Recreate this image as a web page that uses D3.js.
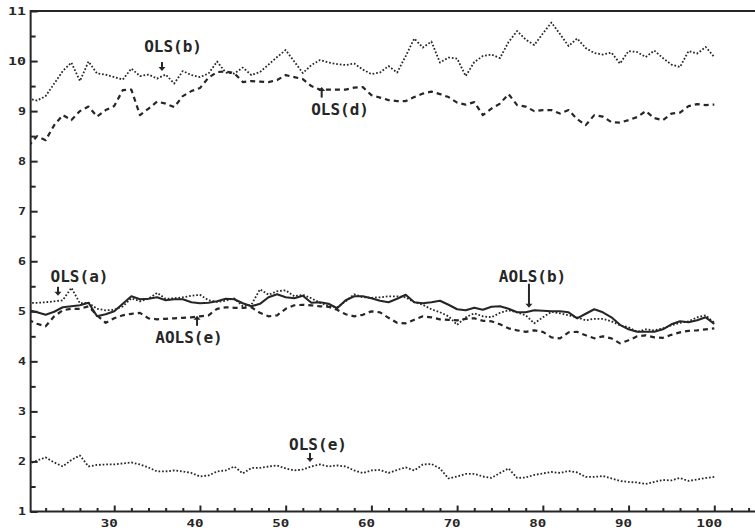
<!DOCTYPE html>
<html>
<head>
<meta charset="utf-8">
<script src="https://cdn.jsdelivr.net/npm/d3@7"></script>
<style>
  body { margin: 0; background: #ffffff; }
  svg { display: block; }
  .lbl { font-family: "DejaVu Sans Mono", monospace; font-weight: bold; fill: #262626; }
</style>
</head>
<body>
<script>
// chart size
var width = 755;
var height = 532;

// x positions (one point per step, 20 .. 100)
var steps = d3.range(20, 101);

// series values
var olsB = [9.25, 9.21, 9.3, 9.55, 9.8, 9.97, 9.6, 9.99, 9.75, 9.73,
  9.68, 9.63, 9.85, 9.7, 9.73, 9.65, 9.73, 9.55, 9.8, 9.72,
  9.68, 9.75, 9.99, 9.77, 9.75, 9.87, 9.72, 9.78, 9.93, 10.08,
  10.22, 9.99, 9.76, 9.92, 10.02, 9.97, 9.94, 9.92, 9.95, 9.83,
  9.74, 9.77, 9.9, 9.77, 10.1, 10.45, 10.27, 10.39, 9.97, 10.07,
  10.05, 9.7, 9.98, 10.1, 10.13, 10.06, 10.38, 10.6, 10.43, 10.32,
  10.55, 10.77, 10.54, 10.3, 10.45, 10.26, 10.16, 10.13, 10.17, 9.95,
  10.2, 10.18, 10.08, 10.21, 10.06, 9.93, 9.88, 10.2, 10.15, 10.28, 10.08];

var olsD = [8.3, 8.5, 8.42, 8.72, 8.92, 8.82, 9.0, 9.09, 8.89, 9.02,
  9.1, 9.42, 9.43, 8.92, 9.05, 9.19, 9.15, 9.08, 9.3, 9.4,
  9.46, 9.67, 9.78, 9.79, 9.76, 9.58, 9.6, 9.59, 9.58, 9.62,
  9.72, 9.68, 9.64, 9.5, 9.43, 9.43, 9.43, 9.43, 9.47, 9.48,
  9.32, 9.27, 9.22, 9.2, 9.2, 9.28, 9.35, 9.39, 9.34, 9.28,
  9.17, 9.13, 9.18, 8.92, 9.05, 9.15, 9.34, 9.12, 9.09, 9.0,
  9.02, 9.02, 8.95, 9.02, 8.84, 8.72, 8.92, 8.89, 8.78, 8.77,
  8.82, 8.88, 9.0, 8.86, 8.82, 8.95, 8.97, 9.1, 9.14, 9.12, 9.13];

var olsA = [5.17, 5.17, 5.18, 5.2, 5.22, 5.47, 5.16, 5.17, 5.05, 5.02,
  5.03, 5.1, 5.26, 5.2, 5.25, 5.37, 5.25, 5.26, 5.28, 5.31,
  5.33, 5.22, 5.19, 5.21, 5.26, 5.1, 5.13, 5.44, 5.33, 5.4,
  5.42, 5.3, 5.33, 5.26, 5.17, 5.11, 5.08, 5.2, 5.34, 5.28,
  5.27, 5.28, 5.3, 5.3, 5.28, 5.18, 5.13, 5.04, 4.98, 4.9,
  4.73, 4.88, 4.96, 4.9, 4.88, 4.97, 5.02, 4.98, 4.92, 4.76,
  4.88, 4.99, 4.96, 4.92, 4.88, 4.82, 4.85, 4.85, 4.8, 4.72,
  4.68, 4.59, 4.64, 4.62, 4.66, 4.72, 4.77, 4.8, 4.88, 4.92, 4.77];

var aolsB = [5.02, 4.98, 4.93, 4.99, 5.08, 5.1, 5.12, 5.17, 4.9, 4.94,
  5.0, 5.15, 5.3, 5.24, 5.25, 5.28, 5.22, 5.24, 5.24, 5.18,
  5.16, 5.17, 5.2, 5.25, 5.24, 5.16, 5.1, 5.15, 5.28, 5.34,
  5.28, 5.26, 5.31, 5.17, 5.18, 5.15, 5.06, 5.22, 5.3, 5.3,
  5.26, 5.21, 5.18, 5.25, 5.33, 5.18, 5.16, 5.18, 5.21, 5.13,
  5.04, 5.02, 5.07, 5.03, 5.09, 5.1, 5.05, 4.98, 4.98, 5.02,
  5.01, 5.0, 5.0, 4.98, 4.86, 4.95, 5.04, 4.98, 4.88, 4.73,
  4.64, 4.59, 4.59, 4.59, 4.64, 4.74, 4.8, 4.78, 4.82, 4.88, 4.75];

var aolsE = [4.83, 4.75, 4.7, 4.9, 5.02, 5.05, 5.05, 5.1, 4.92, 4.77,
  4.86, 4.92, 4.95, 4.97, 4.86, 4.84, 4.85, 4.86, 4.87, 4.88,
  4.9, 4.92, 5.05, 5.08, 5.07, 5.07, 5.08, 4.97, 4.9, 4.92,
  5.05, 5.12, 5.13, 5.12, 5.1, 5.09, 5.03, 4.94, 4.9, 4.93,
  5.0, 4.98, 4.87, 4.77, 4.76, 4.83, 4.9, 4.88, 4.84, 4.83,
  4.82, 4.85, 4.86, 4.81, 4.8, 4.74, 4.66, 4.62, 4.59, 4.62,
  4.59, 4.48, 4.46, 4.58, 4.59, 4.52, 4.46, 4.5, 4.46, 4.36,
  4.42, 4.5, 4.52, 4.48, 4.47, 4.53, 4.58, 4.61, 4.62, 4.64, 4.66];

var olsE = [1.95, 2.02, 2.08, 1.98, 1.9, 2.03, 2.12, 1.9, 1.93, 1.94,
  1.94, 1.96, 1.98, 1.94, 1.88, 1.8, 1.8, 1.82, 1.8, 1.77,
  1.7, 1.72, 1.8, 1.82, 1.9, 1.76, 1.87, 1.87, 1.9, 1.92,
  1.86, 1.82, 1.84, 1.9, 1.94, 1.9, 1.92, 1.9, 1.82, 1.77,
  1.82, 1.83, 1.77, 1.83, 1.88, 1.82, 1.94, 1.95, 1.86, 1.66,
  1.7, 1.75, 1.75, 1.7, 1.67, 1.77, 1.86, 1.67, 1.68, 1.73,
  1.76, 1.79, 1.77, 1.81, 1.78, 1.69, 1.69, 1.71, 1.66, 1.61,
  1.59, 1.58, 1.55, 1.59, 1.63, 1.62, 1.67, 1.61, 1.64, 1.67, 1.69];

// tick labels
var xTickLabels = [30, 40, 50, 60, 70, 80, 90, 100];
var yTickLabels = [1, 2, 3, 4, 5, 6, 7, 8, 9, 10, 11];

// series names and their label/arrow spot (data units)
var seriesNames = ["OLS(b)", "OLS(d)", "OLS(a)", "AOLS(b)", "AOLS(e)", "OLS(e)"];
var seriesValues = [olsB, olsD, olsA, aolsB, aolsE, olsE];
var labelX = [36.86, 56.34, 25.95, 78.79, 38.72, 53.77];
var labelY = [10.18, 8.92, 5.59, 5.59, 4.37, 2.23];
var arrowX = [35.57, 54.2, 23.44, 78.38, 39.66, 52.84];
var arrowFrom = [9.98, 9.27, 5.49, 5.55, 4.71, 2.17];
var arrowTo = [9.8, 9.48, 5.31, 5.07, 4.91, 1.99];

window.onload = function() {
  var svg = d3.select("body")
    .append("svg")
    .attr("width", width)
    .attr("height", height);

  // scales
  var xScale = d3.scaleLinear().domain([20, 100]).range([28.5, 714.3]);
  var yScale = d3.scaleLinear().domain([1, 11]).range([511.5, 11]);

  var axisLeft = xScale(20.25);
  var ink = "#262626";

  // clip area for the lines
  svg.append("clipPath")
    .attr("id", "plot")
    .append("rect")
    .attr("x", axisLeft)
    .attr("y", yScale(11))
    .attr("width", width - axisLeft)
    .attr("height", yScale(1) - yScale(11));

  // line styles per series
  var dashes = ["1.7,1.9", "5,4", "1.7,1.9", null, "5,4", "1.7,1.9"];
  var widths = [1.8, 2.2, 1.8, 2.1, 2.2, 1.8];

  var line = d3.line()
    .x(function(d, i) { return xScale(steps[i]); })
    .y(function(d) { return yScale(d); });

  svg.append("g")
    .attr("clip-path", "url(#plot)")
    .selectAll("path")
    .data(seriesValues)
    .enter()
    .append("path")
    .attr("d", line)
    .attr("fill", "none")
    .attr("stroke", ink)
    .attr("stroke-width", function(d, i) { return widths[i]; })
    .attr("stroke-dasharray", function(d, i) { return dashes[i]; })
    .attr("stroke-linejoin", "round");

  // y axis: ticks inside, labels left
  var yAxis = d3.axisRight(yScale)
    .tickValues(d3.range(1, 11.01, 0.5))
    .tickSize(0)
    .tickFormat("");
  var gy = svg.append("g")
    .attr("transform", "translate(" + axisLeft + ",0)")
    .call(yAxis);
  gy.select(".domain").remove();
  gy.selectAll(".tick line")
    .attr("x2", function(d) { return d % 1 === 0 ? 7 : 5; })
    .attr("stroke", ink)
    .attr("stroke-width", 2);

  svg.selectAll(".ylab")
    .data(yTickLabels)
    .enter()
    .append("text")
    .attr("class", "lbl")
    .attr("x", 26)
    .attr("y", function(d) { return yScale(d); })
    .attr("dy", "0.36em")
    .attr("text-anchor", "end")
    .style("font-size", "11px")
    .attr("textLength", function(d) { return String(d).length * 10 - 2; })
    .attr("lengthAdjust", "spacingAndGlyphs")
    .text(function(d) { return d; });

  // x axis: ticks pointing up
  var xAxis = d3.axisTop(xScale)
    .tickValues(d3.range(22, 105, 2))
    .tickSize(0)
    .tickFormat("");
  var gx = svg.append("g")
    .attr("transform", "translate(0," + yScale(1) + ")")
    .call(xAxis);
  gx.select(".domain").remove();
  gx.selectAll(".tick line")
    .attr("y2", function(d) { return d % 10 === 0 ? -6 : -3.5; })
    .attr("stroke", ink)
    .attr("stroke-width", 2);

  svg.selectAll(".xlab")
    .data(xTickLabels)
    .enter()
    .append("text")
    .attr("class", "lbl")
    .attr("x", function(d) { return xScale(d) - 5; })
    .attr("y", 527)
    .attr("text-anchor", "middle")
    .style("font-size", "11px")
    .attr("textLength", function(d) { return String(d).length * 9 - 1; })
    .attr("lengthAdjust", "spacingAndGlyphs")
    .text(function(d) { return d; });

  // frame: left axis, top border, bottom axis
  svg.append("line")
    .attr("x1", axisLeft).attr("x2", axisLeft)
    .attr("y1", yScale(11) - 1).attr("y2", yScale(1) + 1)
    .attr("stroke", ink).attr("stroke-width", 2);
  svg.append("line")
    .attr("x1", axisLeft).attr("x2", width)
    .attr("y1", yScale(11)).attr("y2", yScale(11))
    .attr("stroke", ink).attr("stroke-width", 2);
  svg.append("line")
    .attr("x1", axisLeft).attr("x2", width)
    .attr("y1", yScale(1)).attr("y2", yScale(1))
    .attr("stroke", ink).attr("stroke-width", 2);

  // series labels
  svg.selectAll(".slab")
    .data(seriesNames)
    .enter()
    .append("text")
    .attr("class", "lbl")
    .attr("x", function(d, i) { return xScale(labelX[i]); })
    .attr("y", function(d, i) { return yScale(labelY[i]); })
    .attr("text-anchor", "middle")
    .style("font-size", "16px")
    .text(function(d) { return d; });

  // small arrows from label to line
  seriesNames.forEach(function(name, i) {
    var ax = xScale(arrowX[i]);
    var y0 = yScale(arrowFrom[i]);
    var y1 = yScale(arrowTo[i]);
    var dir = y1 > y0 ? 1 : -1;
    svg.append("line")
      .attr("x1", ax).attr("x2", ax)
      .attr("y1", y0).attr("y2", y1 - dir * 3)
      .attr("stroke", ink).attr("stroke-width", 2);
    svg.append("path")
      .attr("d", "M" + (ax - 3.5) + "," + (y1 - dir * 4) +
                 "L" + (ax + 3.5) + "," + (y1 - dir * 4) +
                 "L" + ax + "," + y1 + "Z")
      .attr("fill", ink);
  });
};
</script>
</body>
</html>
